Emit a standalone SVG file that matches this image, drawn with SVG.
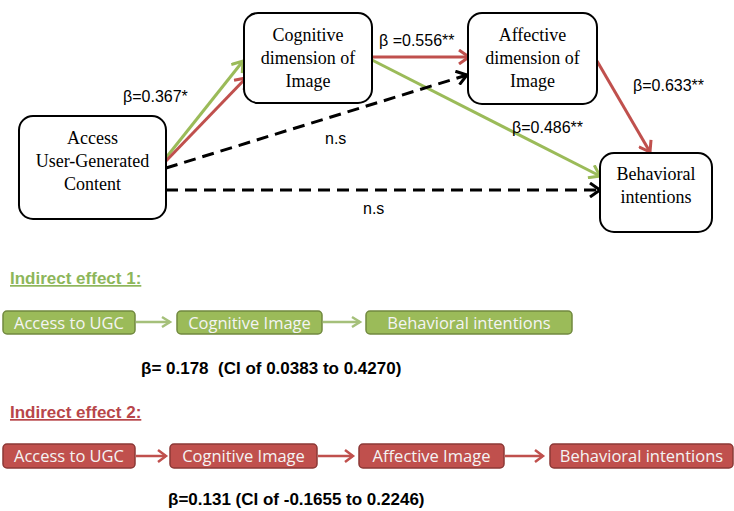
<svg xmlns="http://www.w3.org/2000/svg" width="734" height="511" viewBox="0 0 734 511">
<style>
.node rect.main{fill:#fff;stroke:#000;stroke-width:2}
.nt{font-family:"Liberation Serif","Times New Roman",serif;font-size:18px;fill:#000;text-anchor:middle}
.lbl{font-family:"Liberation Sans",Arial,sans-serif;font-size:16px;fill:#000}
.bold{font-family:"Liberation Sans",Arial,sans-serif;font-size:17px;font-weight:bold;fill:#000}
.gbox{fill:#9bbb59;stroke:#71893f;stroke-width:1.5}
.rbox{fill:#c0504d;stroke:#8c3836;stroke-width:1.5}
.bt{font-family:"Open Sans","Noto Sans",sans-serif;font-size:16.5px;fill:#f4f4f4;text-anchor:middle}
.g{stroke:#9bbb59;stroke-width:3;fill:none}
.r{stroke:#c0504d;stroke-width:3;fill:none}
.d{stroke:#000;stroke-width:3;fill:none;stroke-dasharray:12,7}
.gs{stroke:#a5c07a;stroke-width:2.5;fill:none}
.rs{stroke:#c0504d;stroke-width:2.5;fill:none}
</style>
<defs>
<marker id="ag" markerUnits="userSpaceOnUse" markerWidth="16" markerHeight="16" refX="12" refY="8" orient="auto"><path d="M2,1 L12,8 L2,15" fill="none" stroke="#9bbb59" stroke-width="3"/></marker>
<marker id="ar" markerUnits="userSpaceOnUse" markerWidth="16" markerHeight="16" refX="12" refY="8" orient="auto"><path d="M2,1 L12,8 L2,15" fill="none" stroke="#c0504d" stroke-width="3"/></marker>
<marker id="ak" markerUnits="userSpaceOnUse" markerWidth="16" markerHeight="16" refX="12" refY="8" orient="auto"><path d="M2,1 L12,8 L2,15" fill="none" stroke="#000" stroke-width="3"/></marker>
<marker id="ags" markerUnits="userSpaceOnUse" markerWidth="14" markerHeight="14" refX="11" refY="7" orient="auto"><path d="M3,2 L11,7 L3,12" fill="none" stroke="#a5c07a" stroke-width="2.5"/></marker>
<marker id="ars" markerUnits="userSpaceOnUse" markerWidth="14" markerHeight="14" refX="11" refY="7" orient="auto"><path d="M3,1 L11,7 L3,13" fill="none" stroke="#c0504d" stroke-width="2.5"/></marker>
</defs>
<rect width="734" height="511" fill="#fff"/>
<g id="connectors">
<line class="g" x1="165" y1="159" x2="243" y2="61" marker-end="url(#ag)"/>
<line class="r" x1="165" y1="162" x2="246" y2="78" marker-end="url(#ar)"/>
<line class="r" x1="372" y1="57" x2="469" y2="57" marker-end="url(#ar)"/>
<line class="g" x1="372" y1="60" x2="600" y2="176" marker-end="url(#ag)"/>
<line class="r" x1="597" y1="61" x2="650" y2="152" marker-end="url(#ar)"/>
<line class="d" x1="166" y1="168" x2="467" y2="75" marker-end="url(#ak)"/>
<line class="d" x1="166" y1="190" x2="600" y2="190" marker-end="url(#ak)"/>
<line class="gs" x1="136" y1="322" x2="170" y2="322" marker-end="url(#ags)"/>
<line class="gs" x1="323" y1="322" x2="360" y2="322" marker-end="url(#ags)"/>
<line class="rs" x1="136" y1="456" x2="166" y2="456" marker-end="url(#ars)"/>
<line class="rs" x1="318" y1="456" x2="353" y2="456" marker-end="url(#ars)"/>
<line class="rs" x1="505" y1="456" x2="543" y2="456" marker-end="url(#ars)"/>
</g>
<g id="node-access" class="node">
<rect class="main" x="19" y="116" width="147" height="103" rx="14"/>
<text class="nt" x="92.5" y="144">Access</text>
<text class="nt" x="92.5" y="167">User-Generated</text>
<text class="nt" x="92.5" y="190">Content</text>
</g>
<g id="node-cognitive" class="node">
<rect class="main" x="244" y="13" width="128" height="90" rx="14"/>
<text class="nt" x="308" y="41">Cognitive</text>
<text class="nt" x="308" y="64">dimension of</text>
<text class="nt" x="308" y="87">Image</text>
</g>
<g id="node-affective" class="node">
<rect class="main" x="468" y="13" width="129" height="91" rx="14"/>
<text class="nt" x="532.5" y="41">Affective</text>
<text class="nt" x="532.5" y="64">dimension of</text>
<text class="nt" x="532.5" y="87">Image</text>
</g>
<g id="node-behavioral" class="node">
<rect class="main" x="600" y="153" width="112" height="79" rx="14"/>
<text class="nt" x="656" y="180">Behavioral</text>
<text class="nt" x="656" y="203">intentions</text>
</g>
<g id="labels">
<text class="lbl" x="123" y="102">β=0.367*</text>
<text class="lbl" x="379" y="46">β =0.556**</text>
<text class="lbl" x="633" y="91">β=0.633**</text>
<text class="lbl" x="512" y="133">β=0.486**</text>
<text class="lbl" x="325" y="144">n.s</text>
<text class="lbl" x="363" y="214">n.s</text>
</g>
<g id="indirect1">
<text x="10" y="284" font-family="Liberation Sans,Arial,sans-serif" font-size="17" font-weight="bold" fill="#8db65a" text-decoration="underline">Indirect effect 1:</text>
<g id="node-g1"><rect class="gbox" x="3" y="311" width="132" height="23" rx="4"/><text class="bt" x="69" y="328.5">Access to UGC</text></g>
<g id="node-g2"><rect class="gbox" x="177" y="311" width="145" height="23" rx="4"/><text class="bt" x="249.5" y="328.5">Cognitive Image</text></g>
<g id="node-g3"><rect class="gbox" x="366" y="311" width="206" height="23" rx="4"/><text class="bt" x="469" y="328.5">Behavioral intentions</text></g>
<text class="bold" x="141" y="374" xml:space="preserve">β= 0.178  (CI of 0.0383 to 0.4270)</text>
</g>
<g id="indirect2">
<text x="10" y="418" font-family="Liberation Sans,Arial,sans-serif" font-size="17" font-weight="bold" fill="#b8464a" text-decoration="underline">Indirect effect 2:</text>
<g id="node-r1"><rect class="rbox" x="3" y="444" width="132" height="24" rx="4"/><text class="bt" x="69" y="462">Access to UGC</text></g>
<g id="node-r2"><rect class="rbox" x="170" y="444" width="147" height="24" rx="4"/><text class="bt" x="243.5" y="462">Cognitive Image</text></g>
<g id="node-r3"><rect class="rbox" x="359" y="444" width="145" height="24" rx="4"/><text class="bt" x="431.5" y="462">Affective Image</text></g>
<g id="node-r4"><rect class="rbox" x="550" y="444" width="183" height="24" rx="4"/><text class="bt" x="641.5" y="462">Behavioral intentions</text></g>
<text class="bold" x="168" y="505">β=0.131 (CI of -0.1655 to 0.2246)</text>
</g>
</svg>
